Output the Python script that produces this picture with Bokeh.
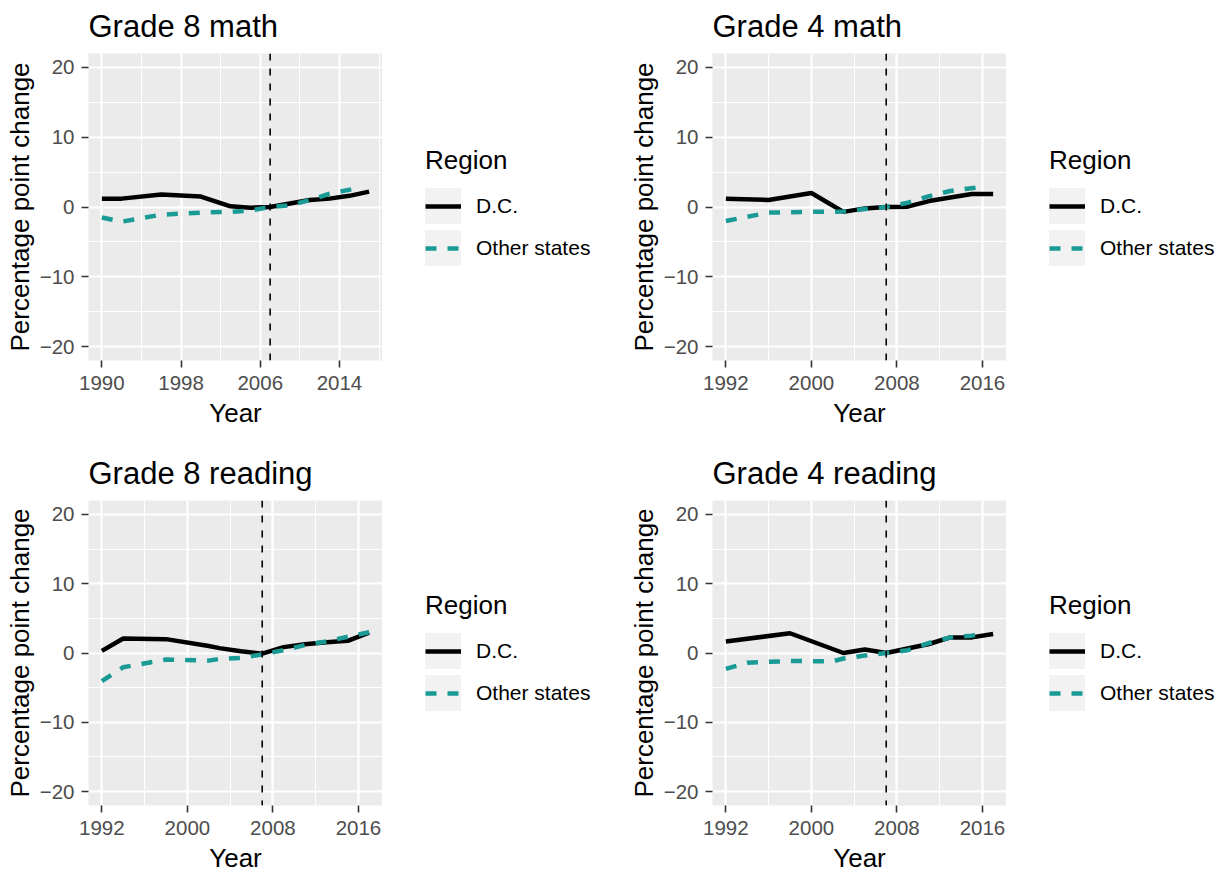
from bokeh.plotting import figure
from bokeh.layouts import column, row
from bokeh.models import Range1d, FixedTicker, Span, Legend, LegendItem
from bokeh.core.properties import value
from bokeh.embed import file_html
from bokeh.resources import INLINE

# ---------------- data ----------------
panel_titles = ["Grade 8 math", "Grade 4 math", "Grade 8 reading", "Grade 4 reading"]
series_names = ["D.C.", "Other states"]
legend_title = "Region"
x_label = "Year"
y_label = "Percentage point change"

g8_math_dc_years = [1990, 1992, 1996, 2000, 2003, 2005, 2007, 2009, 2011, 2013, 2015, 2017]
g8_math_dc = [1.2, 1.2, 1.8, 1.5, 0.1, -0.1, 0.0, 0.5, 1.0, 1.2, 1.6, 2.2]
g8_math_other_years = [1990, 1992, 1996, 2000, 2003, 2005, 2007, 2009, 2011, 2013, 2016]
g8_math_other = [-1.5, -2.1, -1.1, -0.8, -0.7, -0.5, 0.0, 0.25, 1.0, 1.9, 2.75]

g4_math_dc_years = [1992, 1996, 2000, 2003, 2005, 2007, 2009, 2011, 2013, 2015, 2017]
g4_math_dc = [1.2, 1.0, 2.0, -0.7, -0.2, 0.0, 0.05, 0.85, 1.35, 1.85, 1.85]
g4_math_other_years = [1992, 1996, 2000, 2003, 2005, 2007, 2009, 2011, 2013, 2016]
g4_math_other = [-2.0, -0.8, -0.7, -0.65, -0.3, 0.0, 0.6, 1.55, 2.3, 2.9]

g8_read_dc_years = [1992, 1994, 1998, 2002, 2003, 2005, 2007, 2009, 2011, 2013, 2015, 2017]
g8_read_dc = [0.3, 2.1, 2.0, 1.0, 0.7, 0.25, -0.1, 0.85, 1.25, 1.55, 1.75, 2.95]
g8_read_other_years = [1992, 1994, 1998, 2002, 2003, 2005, 2007, 2009, 2011, 2013, 2015, 2017]
g8_read_other = [-4.05, -2.05, -0.95, -1.1, -0.85, -0.7, -0.2, 0.4, 1.15, 1.65, 2.35, 3.0]

g4_read_dc_years = [1992, 1998, 2003, 2005, 2007, 2009, 2011, 2013, 2015, 2017]
g4_read_dc = [1.65, 2.85, 0.0, 0.5, 0.0, 0.65, 1.3, 2.25, 2.25, 2.75]
g4_read_other_years = [1992, 1994, 1998, 2002, 2003, 2005, 2007, 2009, 2011, 2013, 2015, 2016]
g4_read_other = [-2.3, -1.4, -1.15, -1.2, -0.8, -0.35, 0.0, 0.4, 1.45, 2.25, 2.5, 2.85]

g8_math_breaks = [1990, 1998, 2006, 2014]
other_breaks = [1992, 2000, 2008, 2016]
y_breaks = [-20, -10, 0, 10, 20]
y_limits = (-20, 20)
policy_year = 2007

# ---------------- style ----------------
FONT = "Liberation Sans"
DC_COLOR = "#000000"
OTHER_COLOR = "#1A9A95"
KEY_BG = "#F2F2F2"
PANEL_BG = "#EBEBEB"
FRAME_W, FRAME_H = 294, 307
BORDER_L, BORDER_T = 88, 53
LEG_BOTTOM = 266  # screen y of legend bottom, from figure top


def draw_series(fig, dc_x, dc_y, ot_x, ot_y, visible=True):
    r_dc = fig.line(dc_x, dc_y, line_color=DC_COLOR, line_width=4.5, visible=visible)
    r_ot = fig.line(ot_x, ot_y, line_color=OTHER_COLOR, line_width=4.5,
                    line_dash="11 11", visible=visible)
    return r_dc, r_ot


def make_panel(title, dc_x, dc_y, ot_x, ot_y, breaks, height):
    all_x = dc_x + ot_x
    xmin, xmax = min(all_x), max(all_x)
    xpad = 0.05 * (xmax - xmin)
    ypad = 0.05 * (y_limits[1] - y_limits[0])
    p = figure(width=BORDER_L + FRAME_W, height=height, output_backend="svg",
               toolbar_location=None,
               x_range=Range1d(xmin - xpad, xmax + xpad),
               y_range=Range1d(y_limits[0] - ypad, y_limits[1] + ypad),
               min_border_left=BORDER_L, min_border_right=0,
               min_border_top=BORDER_T, min_border_bottom=height - BORDER_T - FRAME_H,
               background_fill_color=PANEL_BG, border_fill_color="white",
               outline_line_color=None)
    p.title.text = title
    p.title.text_font = FONT
    p.title.text_font_size = "31px"
    p.title.text_font_style = "normal"
    p.title.text_color = "black"
    p.title.align = "left"
    p.title.vertical_align = "top"
    p.title.standoff = 16

    step = breaks[1] - breaks[0]
    minor_x = [b + step / 2 for b in [breaks[0] - step] + breaks]
    p.xaxis.ticker = FixedTicker(ticks=breaks, minor_ticks=minor_x)
    ystep = y_breaks[1] - y_breaks[0]
    minor_y = [b + ystep / 2 for b in [y_breaks[0] - ystep] + y_breaks]
    p.yaxis.ticker = FixedTicker(ticks=y_breaks, minor_ticks=minor_y)

    for ax in (p.xaxis[0], p.yaxis[0]):
        ax.axis_line_color = None
        ax.major_tick_line_color = "#333333"
        ax.major_tick_line_width = 1.6
        ax.major_tick_out = 7
        ax.major_tick_in = 0
        ax.minor_tick_out = 0
        ax.minor_tick_in = 0
        ax.major_label_text_font = FONT
        ax.major_label_text_font_size = "20.5px"
        ax.major_label_text_color = "#4D4D4D"
        ax.axis_label_text_font = FONT
        ax.axis_label_text_font_size = "26px"
        ax.axis_label_text_font_style = "normal"
        ax.axis_label_text_color = "black"
    p.xaxis.axis_label = x_label
    p.yaxis.axis_label = y_label
    p.xaxis.major_label_standoff = 8
    p.yaxis.major_label_standoff = 7
    p.xaxis.axis_label_standoff = 5
    p.yaxis.axis_label_standoff = 2

    for g in (p.xgrid[0], p.ygrid[0]):
        g.grid_line_color = "white"
        g.grid_line_width = 2.2
        g.minor_grid_line_color = "white"
        g.minor_grid_line_width = 1.1

    draw_series(p, dc_x, dc_y, ot_x, ot_y)

    p.add_layout(Span(location=policy_year, dimension="height", line_color="black",
                      line_width=1.6, line_dash="7 8"))
    return p


def make_legend(width, height, dc_x, dc_y, ot_x, ot_y):
    lf = figure(width=width, height=height, output_backend="svg", toolbar_location=None,
                x_range=Range1d(0, 1), y_range=Range1d(0, 1),
                x_axis_location=None, y_axis_location=None,
                min_border_left=0, min_border_right=0, min_border_top=0, min_border_bottom=0,
                background_fill_color="white", border_fill_color="white",
                outline_line_color=None)
    lf.grid.visible = False
    # hidden renderers that only supply the legend keys
    kbg = lf.rect(x=dc_x, y=dc_y, width=1, height=1, fill_color=KEY_BG,
                  line_color=KEY_BG, line_width=12, line_join="miter", visible=False)
    r_dc, r_ot = draw_series(lf, dc_x, dc_y, ot_x, ot_y, visible=False)
    leg = Legend(items=[LegendItem(label=value(series_names[0]), renderers=[kbg, r_dc]),
                        LegendItem(label=value(series_names[1]), renderers=[kbg, r_ot])],
                 title=legend_title, location=(43, BORDER_T + FRAME_H - LEG_BOTTOM),
                 orientation="vertical",
                 glyph_width=36, glyph_height=36, label_height=36, spacing=6,
                 label_standoff=15, padding=0, margin=0,
                 title_text_font=FONT, title_text_font_size="26px",
                 title_text_font_style="normal", title_text_color="black", title_standoff=12,
                 label_text_font=FONT, label_text_font_size="21px", label_text_color="black",
                 border_line_color=None, background_fill_alpha=0)
    lf.add_layout(leg)
    return lf


p1 = make_panel(panel_titles[0], g8_math_dc_years, g8_math_dc, g8_math_other_years, g8_math_other,
                g8_math_breaks, 447)
l1 = make_legend(242, 447, g8_math_dc_years, g8_math_dc, g8_math_other_years, g8_math_other)
p2 = make_panel(panel_titles[1], g4_math_dc_years, g4_math_dc, g4_math_other_years, g4_math_other,
                other_breaks, 447)
l2 = make_legend(221, 447, g4_math_dc_years, g4_math_dc, g4_math_other_years, g4_math_other)
p3 = make_panel(panel_titles[2], g8_read_dc_years, g8_read_dc, g8_read_other_years, g8_read_other,
                other_breaks, 428)
l3 = make_legend(242, 428, g8_read_dc_years, g8_read_dc, g8_read_other_years, g8_read_other)
p4 = make_panel(panel_titles[3], g4_read_dc_years, g4_read_dc, g4_read_other_years, g4_read_other,
                other_breaks, 428)
l4 = make_legend(221, 428, g4_read_dc_years, g4_read_dc, g4_read_other_years, g4_read_other)

layout = column(row(p1, l1, p2, l2, spacing=0), row(p3, l3, p4, l4, spacing=0), spacing=0)

open("out.html", "w").write(file_html(layout, INLINE))
